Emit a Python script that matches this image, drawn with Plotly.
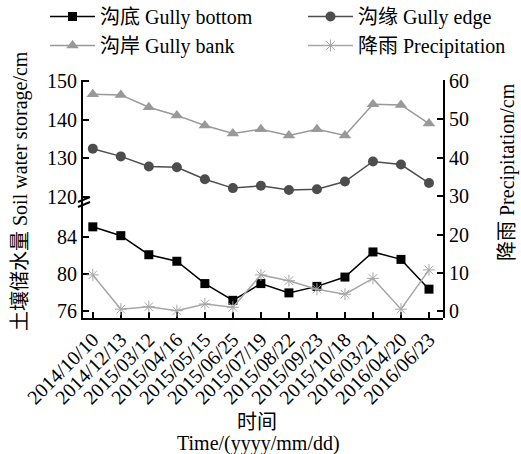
import plotly.graph_objects as go

# Sampling dates
dates = ["2014/10/10", "2014/12/13", "2015/03/12", "2015/04/16", "2015/05/15",
         "2015/06/25", "2015/07/19", "2015/08/22", "2015/09/23", "2015/10/18",
         "2016/03/21", "2016/04/20", "2016/06/23"]

# Soil water storage (cm)
gully_bottom = [85.1, 84.15, 82.1, 81.4, 79.0, 77.2, 79.0, 78.0, 78.7, 79.7, 82.4, 81.6, 78.4]
gully_edge = [132.5, 130.5, 127.9, 127.7, 124.6, 122.3, 122.9, 121.8, 122.0, 124.0, 129.2, 128.4, 123.6]
gully_bank = [146.6, 146.4, 143.2, 141.1, 138.5, 136.4, 137.5, 135.9, 137.5, 135.9, 144.0, 143.8, 139.0]

# Precipitation (cm)
precipitation = [9.5, 0.6, 1.25, 0.2, 1.95, 1.1, 9.5, 8.0, 5.8, 4.5, 8.6, 0.6, 10.8]

# Tick values
low_ticks = [76, 80, 84]
high_ticks = [120, 130, 140, 150]
rain_ticks = [0, 10, 20, 30, 40, 50, 60]

FONT = "Liberation Serif, 'Noto Sans CJK SC', serif"
W, H = 521, 454
L, R, T, B = 83, 78, 80, 136
PW, PH = W - L - R, H - T - B


def px_x(px):
    return (px - L) / PW


def px_y(py):
    return (H - B - py) / PH


split = px_y(206)

fig = go.Figure()

fig.add_trace(go.Scatter(
    x=dates, y=gully_bottom, name="沟底 Gully bottom", mode="lines+markers",
    line=dict(color="#000000", width=1.5),
    marker=dict(symbol="square", size=9, color="#000000"),
    xaxis="x", yaxis="y", legend="legend"))
fig.add_trace(go.Scatter(
    x=dates, y=gully_edge, name="沟缘 Gully edge", mode="lines+markers",
    line=dict(color="#4d4d4d", width=1.5),
    marker=dict(symbol="circle", size=10, color="#4d4d4d"),
    xaxis="x", yaxis="y3", legend="legend2"))
fig.add_trace(go.Scatter(
    x=dates, y=gully_bank, name="沟岸 Gully bank", mode="lines+markers",
    line=dict(color="#999999", width=1.5),
    marker=dict(symbol="triangle-up", size=11, color="#999999"),
    xaxis="x", yaxis="y3", legend="legend"))
fig.add_trace(go.Scatter(
    x=dates, y=precipitation, name="降雨 Precipitation", mode="lines+markers",
    line=dict(color="#a6a6a6", width=1.5),
    marker=dict(symbol="asterisk-open", size=10, color="#a6a6a6",
                line=dict(color="#a6a6a6", width=1)),
    xaxis="x", yaxis="y2", legend="legend2"))

axis_common = dict(
    showgrid=False, zeroline=False, showline=True, linecolor="#000000",
    linewidth=2, ticks="inside", tickcolor="#000000", tickwidth=2, ticklen=6,
    tickfont=dict(family=FONT, size=20, color="#000000"),
)

legend_common = dict(
    orientation="v", xanchor="left", yanchor="top", traceorder="normal",
    font=dict(family=FONT, size=20, color="#000000"),
    bgcolor="rgba(0,0,0,0)", itemwidth=45, tracegroupgap=0,
)

fig.update_layout(
    width=W, height=H,
    margin=dict(l=L, r=R, t=T, b=B, autoexpand=False),
    paper_bgcolor="white", plot_bgcolor="rgba(0,0,0,0)",
    font=dict(family=FONT, size=20, color="#000000"),
    xaxis=dict(type="category", domain=[0, 1], anchor="y",
               range=[-0.35, 12.5], tickangle=-45, **axis_common),
    yaxis=dict(domain=[0, split], range=[75.3, 87.34], anchor="x",
               tickvals=low_ticks, side="left", **axis_common),
    yaxis3=dict(domain=[split, 1], range=[117.67, 150.26], anchor="x",
                tickvals=high_ticks, side="left", **axis_common),
    yaxis2=dict(domain=[0, 1], range=[-1.69, 60.13], anchor="x",
                tickvals=rain_ticks, side="right", **axis_common),
    legend=dict(x=px_x(45), y=px_y(-3), **legend_common),
    legend2=dict(x=px_x(303), y=px_y(-3), **legend_common),
    showlegend=True,
)

# Axis titles
fig.add_annotation(text="土壤储水量 Soil water storage/cm", textangle=-90,
                   xref="paper", yref="paper", x=px_x(20), y=px_y(191),
                   xanchor="center", yanchor="middle",
                   showarrow=False, font=dict(family=FONT, size=20))
fig.add_annotation(text="降雨 Precipitation/cm", textangle=-90,
                   xref="paper", yref="paper", x=px_x(507), y=px_y(172),
                   xanchor="center", yanchor="middle",
                   showarrow=False, font=dict(family=FONT, size=20))
fig.add_annotation(text="时间", xref="paper", yref="paper",
                   x=px_x(257), y=px_y(422), xanchor="center", yanchor="middle",
                   showarrow=False, font=dict(family=FONT, size=20))
fig.add_annotation(text="Time/(yyyy/mm/dd)", xref="paper", yref="paper",
                   x=px_x(258), y=px_y(443), xanchor="center", yanchor="middle",
                   showarrow=False, font=dict(family=FONT, size=20))

# Axis break mark on the left axis
for y0, y1 in [(202, 197), (207, 202)]:
    fig.add_shape(type="line", xref="paper", yref="paper",
                  x0=px_x(78), x1=px_x(90), y0=px_y(y0), y1=px_y(y1),
                  line=dict(color="#000000", width=2))

fig.write_html("out.html")
